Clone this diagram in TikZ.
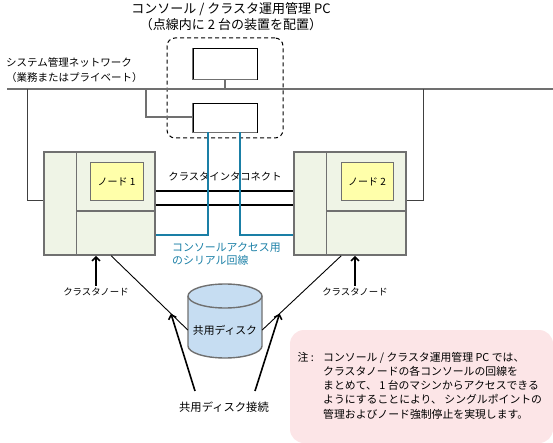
\documentclass[tikz,border=0pt]{standalone}
\usepackage{fontspec}
\setmainfont{Noto Sans CJK JP}
\usetikzlibrary{arrows.meta,calc}
\definecolor{lgray}{HTML}{707070}
\definecolor{nodefill}{HTML}{EFF4E6}
\definecolor{yelfill}{HTML}{FFFFAA}
\definecolor{serialblue}{HTML}{1A7FA6}
\definecolor{diskfill}{HTML}{C6DDF2}
\definecolor{notefill}{HTML}{FCE5E7}
\newcommand{\notecol}[1]{\makebox[25.5pt][l]{#1}}
\begin{document}
\begin{tikzpicture}[x=1pt,y=-1pt,
  lbl/.style={font=\fontsize{10}{14}\selectfont, inner sep=1pt},
  netline/.style={draw=lgray, line width=2pt},
  tapline/.style={draw=black!75, line width=1pt},
  pcbox/.style={draw=black, line width=0.8pt, fill=white, rectangle, inner sep=0pt, minimum width=64pt},
  nodebox/.style={draw=lgray, line width=1.6pt, fill=nodefill, rectangle, inner sep=0pt, minimum width=111pt, minimum height=103pt},
  divline/.style={draw=lgray, line width=1.4pt},
  ybox/.style={draw=lgray, line width=1pt, fill=yelfill, rectangle, inner sep=0pt, minimum width=53pt, minimum height=38pt, font=\fontsize{10}{12}\selectfont},
  serial/.style={draw=serialblue, line width=1.6pt},
  ictline/.style={draw=black, line width=1.8pt},
  disklink/.style={draw=black, line width=0.9pt},
  uparrow/.style={draw=black, line width=1.6pt, -{Straight Barb[length=4pt,width=8pt,line width=1.6pt]}},
  grpbox/.style={draw=black, line width=1pt, dash pattern=on 4pt off 3pt, rounded corners=8pt, rectangle, inner sep=0pt, minimum width=116pt, minimum height=100pt},
  notebox/.style={fill=notefill, rounded corners=14pt, rectangle, inner sep=0pt, minimum width=263pt, minimum height=113pt}
]
\useasboundingbox (0,0) rectangle (553,443);

% titles
\node[lbl, align=center, font=\fontsize{13}{16.5}\selectfont] (title) at (231,16.5) {コンソール / クラスタ運用管理 PC\\（点線内に 2 台の装置を配置）};
\node[lbl, align=left, anchor=west, font=\fontsize{10.5}{15}\selectfont] (netlbl) at (5,70.5) {システム管理ネットワーク\\（業務またはプライベート）};

% dashed group
\node[grpbox] (grp) at (225,88) {};

% network
\coordinate (netL) at (7,89);
\coordinate (netR) at (553,89);
\draw[netline] (netL) -- (netR);

% PC boxes
\node[pcbox, minimum height=31pt] (pcA) at (225,63.5) {};
\node[pcbox, minimum height=29pt] (pcB) at (225,117.5) {};
\draw[lgray, line width=1.6pt] (pcA.north west) |- (pcA.south east);
\draw[lgray, line width=1.6pt] (pcB.north west) |- (pcB.south east);
\draw[netline] (pcA.south) -- (pcA.south |- netL);
\coordinate (tapB) at (146,89);
\draw[netline] (tapB) |- (pcB.west);

% cluster nodes
\node[nodebox] (n1) at (99.5,203.5) {};
\node[nodebox, minimum width=112pt] (n2) at (350,203.5) {};
\draw[divline] ([xshift=33pt]n1.north west) -- ([xshift=33pt]n1.south west);
\draw[divline] ([xshift=33pt,yshift=-60pt]n1.north west) -- ([yshift=-60pt]n1.north east);
\draw[divline] ([xshift=33pt]n2.north west) -- ([xshift=33pt]n2.south west);
\draw[divline] ([xshift=33pt,yshift=-60pt]n2.north west) -- ([yshift=-60pt]n2.north east);
\node[ybox] (y1) at (116.5,182) {ノード 1};
\node[ybox, minimum width=52pt] (y2) at (367,182) {ノード 2};

% network taps to nodes
\coordinate (tapL) at (27,89);
\coordinate (tapR) at (423,89);
\draw[tapline] (tapL) |- ([yshift=2.5pt]n1.west);
\draw[tapline] (tapR) |- ([yshift=2.5pt]n2.east);

% interconnect
\draw[ictline] ([yshift=12.5pt]n1.east) -- ([yshift=12.5pt]n1.east -| n2.west);
\draw[ictline] ([yshift=-1.5pt]n1.east) -- ([yshift=-1.5pt]n1.east -| n2.west);
\node[lbl, font=\fontsize{10.3}{14}\selectfont] (ic) at (225,177) {クラスタインタコネクト};

% serial lines
\draw[serial] ([xshift=-17pt]pcB.south) |- ([yshift=21pt]n1.south east);
\draw[serial] ([xshift=15pt]pcB.south) |- ([yshift=21pt]n2.south west);
\node[lbl, align=left, anchor=west, text=serialblue, font=\fontsize{10.9}{13}\selectfont] (serlbl) at (171,254.5) {コンソールアクセス用\\のシリアル回線};

% cluster node labels
\node[lbl, font=\fontsize{9.4}{12}\selectfont] (cn1) at (96,292) {クラスタノード};
\node[lbl, font=\fontsize{9.4}{12}\selectfont] (cn2) at (355,292) {クラスタノード};
\draw[uparrow] ([yshift=1pt]cn1.north) -- (cn1.north |- n1.south);
\draw[uparrow] ([yshift=1pt]cn2.north) -- (cn2.north |- n2.south);

% shared disk
\fill[diskfill] (188,296) -- (188,346) arc (180:0:37 and 12) -- (262,296) arc (0:-180:37 and 12) -- cycle;
\draw[lgray, line width=1.4pt] (188,296) -- (188,346) arc (180:0:37 and 12) -- (262,296);
\draw[lgray, line width=1.4pt, fill=diskfill] (225,296) ellipse (37 and 12);
\node[lbl, minimum width=74pt, inner sep=0pt, font=\fontsize{10.8}{13}\selectfont] (disk) at (225,330) {共用ディスク};

% disk links
\coordinate (l1a) at ($(n1.south west)+(68pt,0)$);
\coordinate (l2a) at ($(n2.south west)+(48pt,0)$);
\draw[disklink] (l1a) -- (disk.west);
\draw[disklink] (l2a) -- (disk.east);

% shared disk connection label and arrows
\node[lbl, font=\fontsize{11.3}{14}\selectfont] (sc) at (224,407) {共用ディスク接続};
\coordinate (s1) at (195,391);
\coordinate (s2) at (255,391);
\draw[uparrow] (s1) -- ($(l1a)!0.78!(disk.west)$);
\draw[uparrow] (s2) -- ($(l2a)!0.78!(disk.east)$);

% note
\node[notebox] (note) at (421.5,386.5) {};
\node[anchor=west, inner sep=0pt, align=left, font=\fontsize{10.85}{14.3}\selectfont] (notetxt) at (297.5,385.5) {%
\notecol{注 :}コンソール / クラスタ運用管理 PC では、\\
\notecol{}クラスタノードの各コンソールの回線を\\
\notecol{}まとめて、 1 台のマシンからアクセスできる\\
\notecol{}ようにすることにより、 シングルポイントの\\
\notecol{}管理およびノード強制停止を実現します。};
\end{tikzpicture}
\end{document}
